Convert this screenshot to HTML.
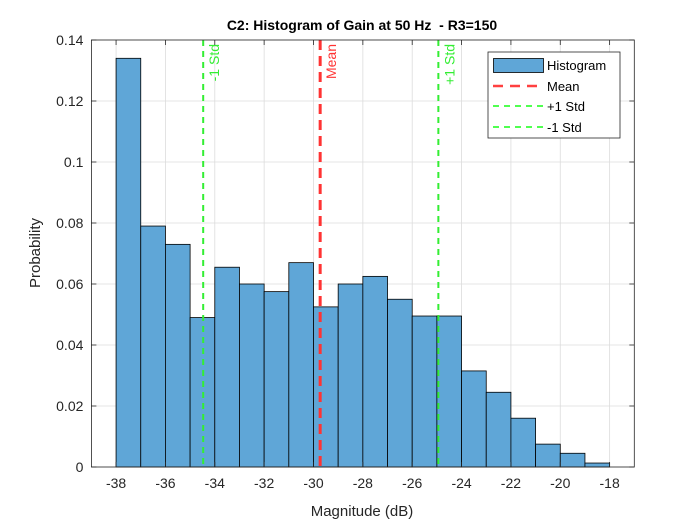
<!DOCTYPE html>
<html><head><meta charset="utf-8"><style>
body{margin:0;background:#fff;}
svg{display:block;font-family:"Liberation Sans",Arial,sans-serif;}
</style></head><body>
<svg id="chart" width="700" height="525">
<rect width="700" height="525" fill="#fff"/>
<rect x="91.4" y="40" width="542.9" height="427" fill="#fff" stroke="none"/>
<g id="grid"></g>
<g id="bars"></g>
<g id="lines"></g>
<g id="axes"></g>
<text x="362" y="30" text-anchor="middle" font-size="14" font-weight="bold" fill="#000" style="white-space:pre">C2: Histogram of Gain at 50 Hz  - R3=150</text>
<text x="362" y="516" text-anchor="middle" font-size="15" fill="#262626">Magnitude (dB)</text>
<text transform="translate(40,253) rotate(-90)" text-anchor="middle" font-size="15" fill="#262626">Probability</text>
<g>
<rect x="488" y="52" width="132" height="86" fill="#fff" stroke="#262626" stroke-width="0.8"/>
<rect x="493.5" y="58.5" width="50" height="14" fill="#5fa6d7" stroke="#000" stroke-width="0.8"/>
<text x="547" y="70" font-size="13" fill="#000">Histogram</text>
<line x1="493" y1="86" x2="543" y2="86" stroke="#ff4040" stroke-width="2.5" stroke-dasharray="10,7"/>
<text x="547" y="91" font-size="13" fill="#000">Mean</text>
<line x1="493" y1="106" x2="543" y2="106" stroke="#50ff50" stroke-width="2" stroke-dasharray="6,5"/>
<text x="547" y="111" font-size="13" fill="#000">+1 Std</text>
<line x1="493" y1="127" x2="543" y2="127" stroke="#50ff50" stroke-width="2" stroke-dasharray="6,5"/>
<text x="547" y="132" font-size="13" fill="#000">-1 Std</text>
</g>
</svg>
<script>
const binStarts = [-38,-37,-36,-35,-34,-33,-32,-31,-30,-29,-28,-27,-26,-25,-24,-23,-22,-21,-20,-19];
const probabilities = [0.134,0.079,0.073,0.049,0.0655,0.060,0.0575,0.067,0.0525,0.060,0.0625,0.055,0.0495,0.0495,0.0315,0.0245,0.016,0.0075,0.0045,0.0013];
const binWidth = 1;
const meanValue = -29.73;
const minusStd = -34.47;
const plusStd = -24.94;
const xTicks = [-38,-36,-34,-32,-30,-28,-26,-24,-22,-20,-18];
const yTicks = [0,0.02,0.04,0.06,0.08,0.1,0.12,0.14];
const yTickLabels = ["0","0.02","0.04","0.06","0.08","0.1","0.12","0.14"];

const X0=91.4, X1=634.3, Y0=467, Y1=40;
const xMin=-39, xMax=-17, yMin=0, yMax=0.14;
const sx=v=>X0+(v-xMin)/(xMax-xMin)*(X1-X0);
const sy=v=>Y0-(v-yMin)/(yMax-yMin)*(Y0-Y1);
const NS="http://www.w3.org/2000/svg";
function mk(tag,attrs,parent){const e=document.createElementNS(NS,tag);for(const k in attrs)e.setAttribute(k,attrs[k]);document.getElementById(parent).appendChild(e);return e;}

xTicks.forEach(t=>{
  const g=mk('line',{x1:sx(t),x2:sx(t),y1:Y1,y2:Y0,stroke:'#dcdcdc','stroke-width':0.8},'grid');
  
  
});
yTicks.forEach(t=>{
  const g=mk('line',{x1:X0,x2:X1,y1:sy(t),y2:sy(t),stroke:'#dcdcdc','stroke-width':0.8},'grid');
  
  
});
binStarts.forEach((b,i)=>{
  const r=mk('rect',{x:sx(b),y:sy(probabilities[i]),width:sx(b+binWidth)-sx(b),height:sy(0)-sy(probabilities[i]),fill:'#5fa6d7',stroke:'#000','stroke-width':0.8},'bars');
  
  
});
function vline(v,color,w,dash,label,name){
  const l=mk('line',{x1:sx(v),x2:sx(v),y1:Y1,y2:Y0,stroke:color,'stroke-width':w,'stroke-dasharray':dash},'lines');
  
  
  const t=mk('text',{transform:`translate(${sx(v)+16},${Y1+4}) rotate(-90)`,'text-anchor':'end','font-size':14,fill:color},'lines');
  t.textContent=label;
  
  
}
vline(meanValue,'#ff3333',3,'10,6','Mean','mean-line');
vline(minusStd,'#33ee33',2,'6,5','-1 Std','minus-std-line');
vline(plusStd,'#33ee33',2,'6,5','+1 Std','plus-std-line');

const frame=mk('rect',{x:X0,y:Y1,width:X1-X0,height:Y0-Y1,fill:'none',stroke:'#262626','stroke-width':0.8},'axes');


xTicks.forEach(t=>{
  mk('line',{x1:sx(t),x2:sx(t),y1:Y0,y2:Y0-5,stroke:'#262626','stroke-width':0.8},'axes');
  mk('line',{x1:sx(t),x2:sx(t),y1:Y1,y2:Y1+5,stroke:'#262626','stroke-width':0.8},'axes');
  const tx=mk('text',{x:sx(t),y:Y0+21,'text-anchor':'middle','font-size':14,fill:'#262626'},'axes');
  tx.textContent=t;
  
  
});
yTicks.forEach((t,i)=>{
  mk('line',{x1:X0,x2:X0+5,y1:sy(t),y2:sy(t),stroke:'#262626','stroke-width':0.8},'axes');
  mk('line',{x1:X1,x2:X1-5,y1:sy(t),y2:sy(t),stroke:'#262626','stroke-width':0.8},'axes');
  const tx=mk('text',{x:X0-8,y:sy(t)+5,'text-anchor':'end','font-size':14,fill:'#262626'},'axes');
  tx.textContent=yTickLabels[i];
  
  
});
</script>
</body></html>
